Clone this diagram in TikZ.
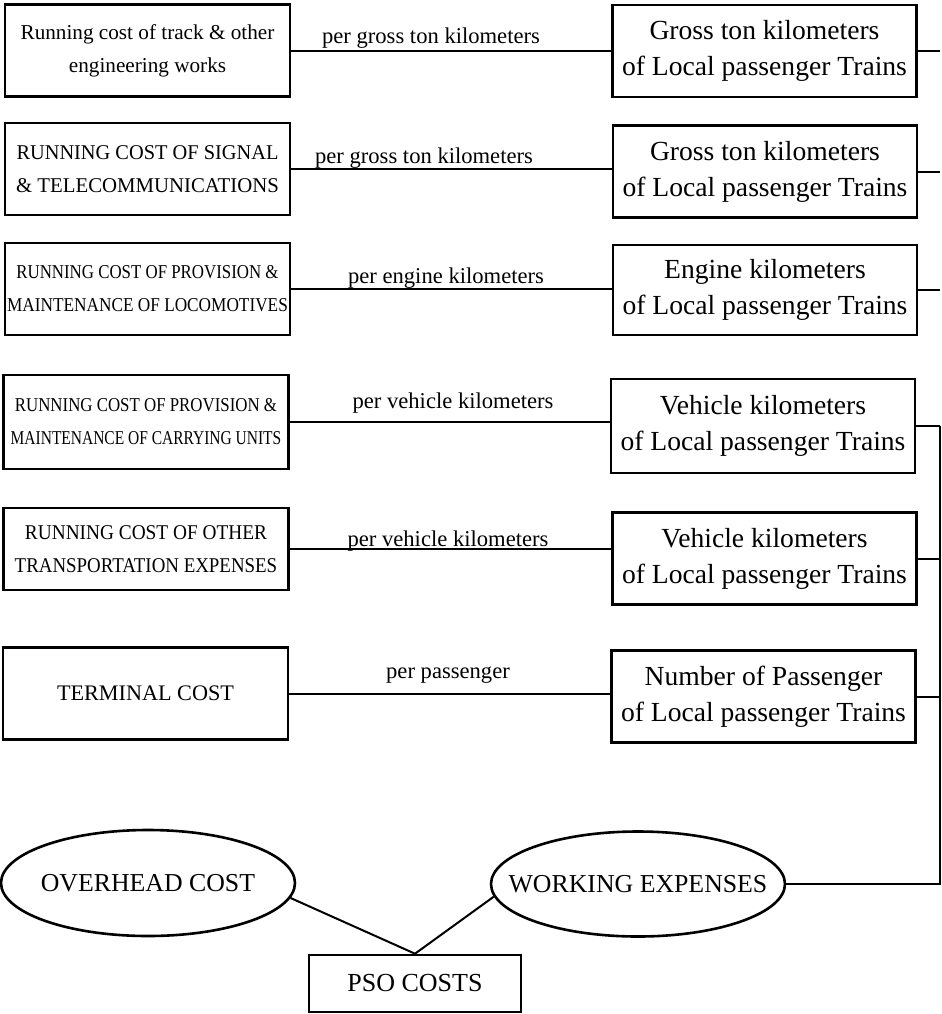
\documentclass[tikz,border=0pt]{standalone}
\usepackage{fontspec}
\usepackage{graphicx}
\setmainfont{Liberation Serif}
\usetikzlibrary{shapes.geometric}

\newcommand{\fs}[2]{\fontsize{#1}{#2}\selectfont}
% horizontally condensed line
\newcommand{\sq}[2]{\scalebox{#1}[1]{#2}}

\begin{document}
\begin{tikzpicture}[x=0.5pt, y=-0.5pt, line width=1pt,
  costbox/.style={draw, line width=1.3pt, inner sep=0pt, align=center},
  leftbox/.style={costbox, minimum width=142.5pt, minimum height=46pt},
  rightbox/.style={costbox, minimum width=152pt, minimum height=46pt, font=\fs{13.8}{18}},
  oval/.style={draw, ellipse, line width=1.3pt, inner sep=0pt, minimum width=147pt, minimum height=53pt, font=\fs{12.9}{14}},
  rate/.style={inner sep=0pt, font=\fs{11.3}{12}},
  caps/.style={font=\fs{10.5}{16.5}}
]
\useasboundingbox (0,0) rectangle (942,1014);

% cost items
\node[leftbox, font=\fs{10.6}{16.5}] (L1) at (147.5,50.5) {Running cost of track \& other\\engineering works};
\node[leftbox, caps] (L2) at (147.5,169) {\sq{0.97}{RUNNING COST OF SIGNAL}\\\sq{0.99}{\& TELECOMMUNICATIONS}};
\node[leftbox, caps, font=\fs{9.8}{16.5}] (L3) at (147.5,289) {\sq{0.86}{RUNNING COST OF PROVISION \&}\\\sq{0.88}{MAINTENANCE OF LOCOMOTIVES}};
\node[leftbox, caps, font=\fs{9.8}{16.5}, minimum height=47pt] (L4) at (146,422) {\sq{0.86}{RUNNING COST OF PROVISION \&}\\\sq{0.79}{MAINTENANCE OF CARRYING UNITS}};
\node[leftbox, caps, minimum height=41pt] (L5) at (146,549) {\sq{0.92}{RUNNING COST OF OTHER}\\\sq{0.9}{TRANSPORTATION EXPENSES}};
\node[leftbox, font=\fs{11.1}{16.5}] (L6) at (145.5,693.5) {TERMINAL COST};

% allocation bases
\node[rightbox] (R1) at (764.5,51) {Gross ton kilometers\\of Local passenger Trains};
\node[rightbox] (R2) at (765,171.5) {Gross ton kilometers\\of Local passenger Trains};
\node[rightbox, minimum height=45pt] (R3) at (765,290) {Engine kilometers\\of Local passenger Trains};
\node[rightbox, minimum height=47pt] (R4) at (763,426) {Vehicle kilometers\\of Local passenger Trains};
\node[rightbox] (R5) at (764.5,558.5) {Vehicle kilometers\\of Local passenger Trains};
\node[rightbox] (R6) at (763.5,696.5) {Number of Passenger\\of Local passenger Trains};

% rate labels
\node[rate] (T1) at (431,38) {per gross ton kilometers};
\node[rate] (T2) at (424,158) {per gross ton kilometers};
\node[rate] (T3) at (446,278) {per engine kilometers};
\node[rate] (T4) at (453,403) {per vehicle kilometers};
\node[rate] (T5) at (448,541) {per vehicle kilometers};
\node[rate] (T6) at (448,675) {per passenger};

% totals
\node[oval] (OH) at (148,883) {\makebox[0pt]{OVERHEAD COST}};
\node[oval, minimum height=52.5pt] (WE) at (638,884) {\makebox[0pt]{WORKING EXPENSES}};
\node[costbox, minimum width=106pt, minimum height=28.5pt, font=\fs{13}{14}] (PSO) at (415,983.5) {PSO COSTS};

\coordinate (bus) at (940,0);

% item-to-base connectors
\foreach \i in {1,...,6}{
  \draw (L\i.east) -- (L\i.east -| R\i.west);
  \draw (R\i.east) -- (R\i.east -| bus);
}
\draw (R4.east -| bus) |- (WE.east);

\draw (OH.-6) -- (PSO.north);
\draw (WE.185) -- (PSO.north);
\end{tikzpicture}
\end{document}
